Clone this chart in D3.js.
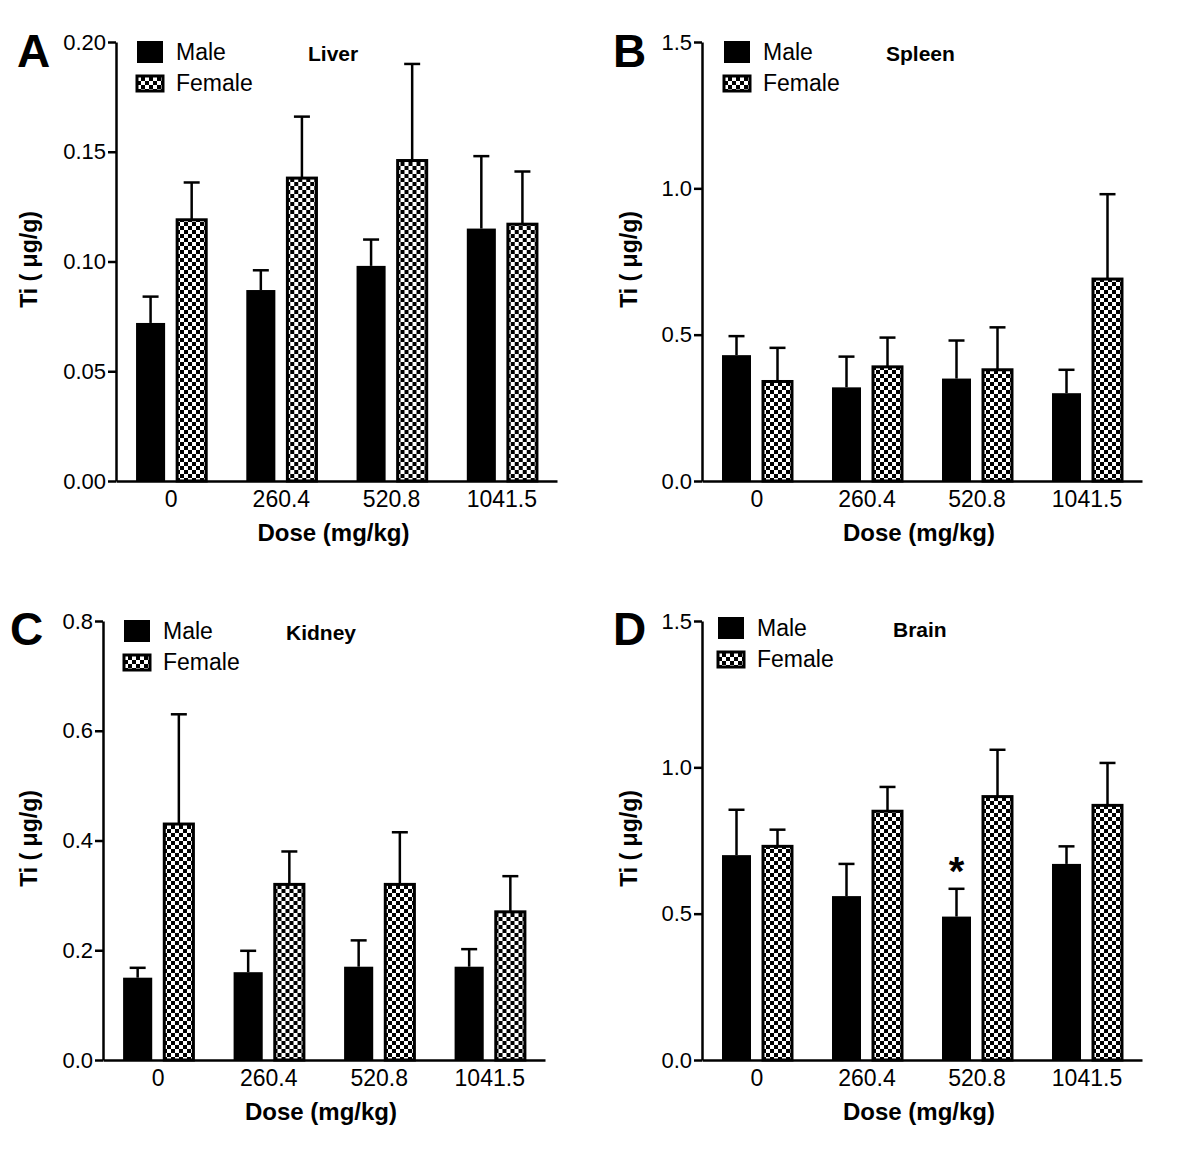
<!DOCTYPE html>
<html><head><meta charset="utf-8">
<script src="https://cdn.jsdelivr.net/npm/d3@7"></script>
<style>body{margin:0;background:#fff}text{font-family:"Liberation Sans",Arial,sans-serif}</style>
</head><body><svg id="c" width="1200" height="1150"></svg>
<script>
const categories = ["0", "260.4", "520.8", "1041.5"];
const seriesNames = ["Male", "Female"];

const liverMale = [0.072, 0.087, 0.098, 0.115];
const liverMaleErr = [0.012, 0.009, 0.012, 0.033];
const liverFemale = [0.119, 0.138, 0.146, 0.117];
const liverFemaleErr = [0.017, 0.028, 0.044, 0.024];
const liverTicks = [0, 0.05, 0.10, 0.15, 0.20];

const spleenMale = [0.43, 0.32, 0.35, 0.30];
const spleenMaleErr = [0.065, 0.105, 0.13, 0.08];
const spleenFemale = [0.34, 0.39, 0.38, 0.69];
const spleenFemaleErr = [0.115, 0.10, 0.145, 0.29];
const spleenTicks = [0, 0.5, 1.0, 1.5];

const kidneyMale = [0.15, 0.16, 0.17, 0.17];
const kidneyMaleErr = [0.018, 0.039, 0.048, 0.032];
const kidneyFemale = [0.43, 0.32, 0.32, 0.27];
const kidneyFemaleErr = [0.20, 0.06, 0.095, 0.065];
const kidneyTicks = [0, 0.2, 0.4, 0.6, 0.8];

const brainMale = [0.70, 0.56, 0.49, 0.67];
const brainMaleErr = [0.155, 0.11, 0.095, 0.06];
const brainFemale = [0.73, 0.85, 0.90, 0.87];
const brainFemaleErr = [0.057, 0.083, 0.16, 0.145];
const brainTicks = [0, 0.5, 1.0, 1.5];
const brainSignificant = [false, false, true, false];

const panels = [
  {letter:"A", organ:"Liver", male:liverMale, maleErr:liverMaleErr, female:liverFemale, femaleErr:liverFemaleErr, ticks:liverTicks, fmt:".2f", sig:[false,false,false,false],
   left:116, top:42, w:441, h:439, letterX:17, letterY:67, legX:137, legY:41, organX:308, organY:61, titleX:37},
  {letter:"B", organ:"Spleen", male:spleenMale, maleErr:spleenMaleErr, female:spleenFemale, femaleErr:spleenFemaleErr, ticks:spleenTicks, fmt:".1f", sig:[false,false,false,false],
   left:702, top:42, w:440, h:439, letterX:613, letterY:67, legX:724, legY:41, organX:886, organY:61, titleX:637},
  {letter:"C", organ:"Kidney", male:kidneyMale, maleErr:kidneyMaleErr, female:kidneyFemale, femaleErr:kidneyFemaleErr, ticks:kidneyTicks, fmt:".1f", sig:[false,false,false,false],
   left:103, top:621, w:442, h:439, letterX:10, letterY:645, legX:124, legY:620, organX:286, organY:640, titleX:37},
  {letter:"D", organ:"Brain", male:brainMale, maleErr:brainMaleErr, female:brainFemale, femaleErr:brainFemaleErr, ticks:brainTicks, fmt:".1f", sig:brainSignificant,
   left:702, top:621, w:440, h:439, letterX:613, letterY:645, legX:718, legY:617, organX:893, organY:637, titleX:637}
];

const svg = d3.select("#c");
const defs = svg.append("defs");
const pat = defs.append("pattern").attr("id","checker").attr("patternUnits","userSpaceOnUse")
  .attr("width",8).attr("height",8);
pat.append("rect").attr("width",8).attr("height",8).attr("fill","#fff");
pat.append("rect").attr("x",0).attr("y",0).attr("width",4).attr("height",4).attr("fill","#000");
pat.append("rect").attr("x",4).attr("y",4).attr("width",4).attr("height",4).attr("fill","#000");

panels.forEach(p => {
  const g = svg.append("g").attr("transform",`translate(${p.left},${p.top})`);
  const yMax = p.ticks[p.ticks.length-1];
  const y = d3.scaleLinear().domain([0,yMax]).range([p.h,0]);
  const x0 = d3.scaleBand().domain(categories).range([0,p.w]);
  const x1 = d3.scaleBand().domain(seriesNames).range([0,x0.bandwidth()]).paddingInner(0.293).paddingOuter(0.488);

  const data = categories.map((c,i)=>({cat:c, i, vals:[
    {s:"Male", v:p.male[i], e:p.maleErr[i]},
    {s:"Female", v:p.female[i], e:p.femaleErr[i]}]}));

  const grp = g.selectAll("g.grp").data(data).join("g").attr("transform",d=>`translate(${x0(d.cat)},0)`);
  // error bars (upward only)
  grp.selectAll("g.err").data(d=>d.vals).join("g").each(function(d){
    const gg = d3.select(this);
    const cx = x1(d.s)+x1.bandwidth()/2;
    gg.append("line").attr("x1",cx).attr("x2",cx).attr("y1",y(d.v)).attr("y2",y(d.v+d.e)).attr("stroke","#000").attr("stroke-width",2.5);
    gg.append("line").attr("x1",cx-8).attr("x2",cx+8).attr("y1",y(d.v+d.e)).attr("y2",y(d.v+d.e)).attr("stroke","#000").attr("stroke-width",2.5);
  });
  grp.selectAll("rect.bar").data(d=>d.vals).join("rect")
    .attr("x",d=>x1(d.s)).attr("width",x1.bandwidth())
    .attr("y",d=>y(d.v)).attr("height",d=>y(0)-y(d.v))
    .attr("fill",d=>d.s==="Male"?"#000":"url(#checker)")
    .attr("stroke","#000").attr("stroke-width",d=>d.s==="Male"?0:3);
  // significance asterisk
  grp.filter(d=>p.sig[d.i]).append("text")
    .attr("x",x1("Male")+x1.bandwidth()/2)
    .attr("y",d=>y(d.vals[0].v+d.vals[0].e)-4)
    .attr("text-anchor","middle").attr("font-size",40).attr("font-weight","bold").text("*");

  // y axis
  const ya = g.append("g").call(d3.axisLeft(y).tickValues(p.ticks).tickFormat(d3.format(p.fmt)).tickSize(8).tickSizeOuter(0));
  ya.select(".domain").attr("stroke-width",2.5);
  ya.selectAll(".tick line").attr("stroke-width",2.5);
  ya.selectAll(".tick text").attr("font-size",22).attr("font-family","Liberation Sans, Arial, sans-serif").attr("x",-10);
  // x axis
  const xa = g.append("g").attr("transform",`translate(0,${p.h})`).call(d3.axisBottom(x0).tickSize(0).tickSizeOuter(0));
  xa.select(".domain").attr("stroke-width",2.5);
  xa.selectAll(".tick text").attr("font-size",23).attr("font-family","Liberation Sans, Arial, sans-serif").attr("dy","1.0em");

  // axis titles
  svg.append("text").attr("x",p.left+p.w/2-3).attr("y",p.top+p.h+60).attr("text-anchor","middle")
    .attr("font-size",24).attr("font-weight","bold").text("Dose (mg/kg)");
  svg.append("text").attr("transform",`translate(${p.titleX},${p.top+p.h/2-2}) rotate(-90)`).attr("text-anchor","middle")
    .attr("font-size",23).attr("font-weight","bold").text("Ti ( μg/g)");
  // panel letter
  svg.append("text").attr("x",p.letterX).attr("y",p.letterY).attr("font-size",46).attr("font-weight","bold").text(p.letter);
  // organ title
  svg.append("text").attr("x",p.organX).attr("y",p.organY).attr("font-size",21).attr("font-weight","bold").text(p.organ);
  // legend
  const lg = svg.append("g").attr("transform",`translate(${p.legX},${p.legY})`);
  seriesNames.forEach((s,i)=>{
    lg.append("rect").attr("x",0).attr("y",i===0?0:35).attr("width",26).attr("height",i===0?22:15)
      .attr("fill",s==="Male"?"#000":"url(#checker)").attr("stroke","#000").attr("stroke-width",s==="Male"?0:3);
    lg.append("text").attr("x",39).attr("y",i*31+19).attr("font-size",23).text(s);
  });
});
</script></body></html>
